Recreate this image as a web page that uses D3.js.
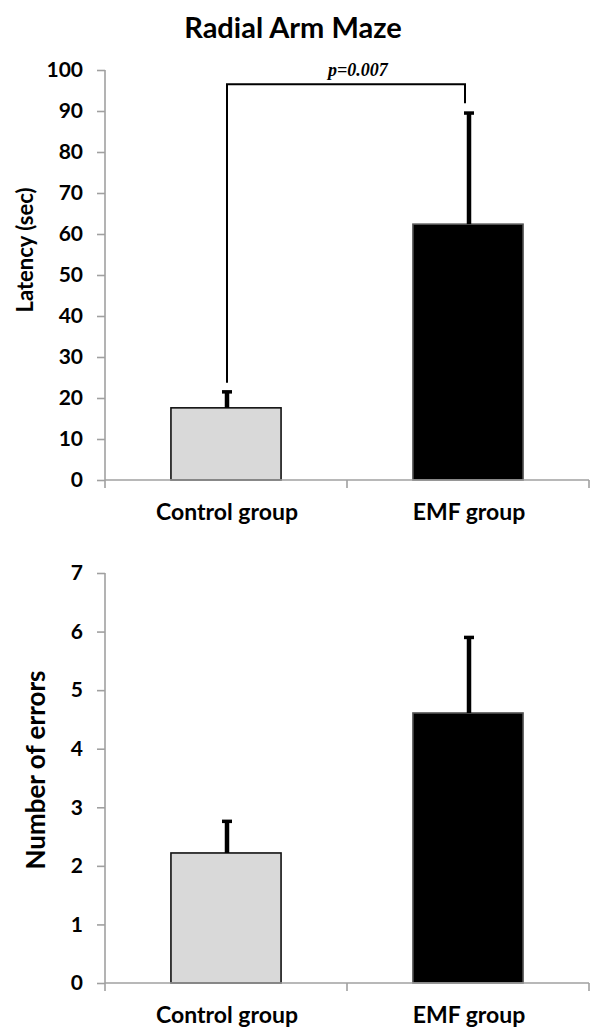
<!DOCTYPE html>
<html>
<head>
<meta charset="utf-8">
<script src="https://cdn.jsdelivr.net/npm/d3@7"></script>
<style>
  body { margin: 0; background: #fff; }
  svg text { font-family: Lato, "Open Sans", sans-serif; font-weight: bold; fill: #000; }
</style>
</head>
<body>
<div id="chart"></div>
<script>
// values
const categories = ["Control group", "EMF group"];
const latencyMean = [17.6, 62.4];
const latencyErr = [3.9, 27.1];
const latencyTicks = [0, 10, 20, 30, 40, 50, 60, 70, 80, 90, 100];
const errorsMean = [2.22, 4.61];
const errorsErr = [0.54, 1.29];
const errorsTicks = [0, 1, 2, 3, 4, 5, 6, 7];
const barFills = ["#d9d9d9", "#000000"];
const pLabel = "p=0.007";

const width = 590, height = 1027;
const svg = d3.select("#chart").append("svg").attr("width", width).attr("height", height);

svg.append("text").attr("x", 293).attr("y", 38).attr("text-anchor", "middle")
  .style("font-size", "29px").text("Radial Arm Maze");

const drawPanel = (opt) => {
  const x = d3.scaleBand().domain(categories).range([105, 589]);
  const y = d3.scaleLinear().domain([0, d3.max(opt.ticks)]).range([opt.bottom, opt.top]);
  const barW = x.bandwidth() * 0.455;
  const g = svg.append("g");

  // y axis
  const yAxis = d3.axisLeft(y).tickValues(opt.ticks).tickFormat(d3.format("d")).tickSize(8).tickPadding(14);
  const ya = g.append("g").attr("transform", "translate(105,0)").call(yAxis);
  ya.select(".domain").attr("stroke", "#a0a0a0").attr("stroke-width", 1.6).attr("d", "M0," + y(d3.max(opt.ticks)) + "V" + opt.bottom);
  ya.selectAll(".tick line").attr("stroke", "#a0a0a0").attr("stroke-width", 1.6);
  ya.selectAll(".tick text").style("font-size", "21px").style("font-family", "Lato").style("font-weight", "bold").attr("fill", "#000");

  // bars
  g.selectAll("rect.bar").data(opt.mean).enter().append("rect").attr("class", "bar")
    .attr("x", (d, i) => x(categories[i]) + (x.bandwidth() - barW) / 2)
    .attr("y", (d) => y(d))
    .attr("width", barW)
    .attr("height", (d) => y(0) - y(d))
    .attr("fill", (d, i) => barFills[i])
    .attr("stroke", (d, i) => i == 0 ? "#111" : "#555")
    .attr("stroke-width", 1.6);

  // x axis (ticks at band edges, like excel)
  const edges = categories.map((c) => x(c)).concat([x.range()[1]]);
  g.append("line").attr("x1", 105).attr("x2", 589).attr("y1", opt.bottom).attr("y2", opt.bottom)
    .attr("stroke", "#a0a0a0").attr("stroke-width", 1.6);
  g.selectAll("line.xt").data(edges).enter().append("line").attr("class", "xt")
    .attr("x1", (d) => d).attr("x2", (d) => d).attr("y1", opt.bottom).attr("y2", opt.bottom + 8)
    .attr("stroke", "#a0a0a0").attr("stroke-width", 1.6);
  g.selectAll("text.cat").data(categories).enter().append("text").attr("class", "cat")
    .attr("x", (d) => x(d) + x.bandwidth() / 2 + 1)
    .attr("y", opt.bottom + 40)
    .attr("text-anchor", "middle").style("font-size", "23px").text((d) => d);

  // error bars (upper only)
  const cx = (i) => x(categories[i]) + x.bandwidth() / 2 + 1;
  g.selectAll("line.err").data(opt.mean).enter().append("line").attr("class", "err")
    .attr("x1", (d, i) => cx(i)).attr("x2", (d, i) => cx(i))
    .attr("y1", (d) => y(d)).attr("y2", (d, i) => y(d + opt.err[i]))
    .attr("stroke", "#000").attr("stroke-width", 4.5);
  g.selectAll("line.cap").data(opt.mean).enter().append("line").attr("class", "cap")
    .attr("x1", (d, i) => cx(i) - 5).attr("x2", (d, i) => cx(i) + 5)
    .attr("y1", (d, i) => y(d + opt.err[i])).attr("y2", (d, i) => y(d + opt.err[i]))
    .attr("stroke", "#000").attr("stroke-width", 3.5);

  // axis title
  svg.append("text").attr("transform", "translate(" + opt.labelX + "," + opt.labelY + ") rotate(-90)")
    .attr("text-anchor", "middle").style("font-size", opt.labelSize).text(opt.label);

  return {x: x, y: y, cx: cx};
};

const latencyPanel = drawPanel({
  mean: latencyMean, err: latencyErr, ticks: latencyTicks,
  top: 70, bottom: 480, label: "Latency (sec)", labelX: 33, labelY: 250, labelSize: "22px"
});

drawPanel({
  mean: errorsMean, err: errorsErr, ticks: errorsTicks,
  top: 573, bottom: 983, label: "Number of errors", labelX: 45, labelY: 770, labelSize: "26px"
});

// significance bracket
const bracketY = latencyPanel.y(96.5);
const leftEnd = latencyPanel.y(latencyMean[0] + latencyErr[0] + 2.2);
const rightEnd = latencyPanel.y(latencyMean[1] + latencyErr[1] + 2.4);
svg.append("path")
  .attr("d", "M" + latencyPanel.cx(0) + "," + leftEnd + "V" + bracketY + "H" + (latencyPanel.cx(1) - 4) + "V" + rightEnd)
  .attr("fill", "none").attr("stroke", "#000").attr("stroke-width", 2);
svg.append("text").attr("x", 358).attr("y", 76).attr("text-anchor", "middle")
  .style("font-family", "'Liberation Serif', 'DejaVu Serif', serif").style("font-style", "italic")
  .style("font-size", "18px").text(pLabel);
</script>
</body>
</html>
